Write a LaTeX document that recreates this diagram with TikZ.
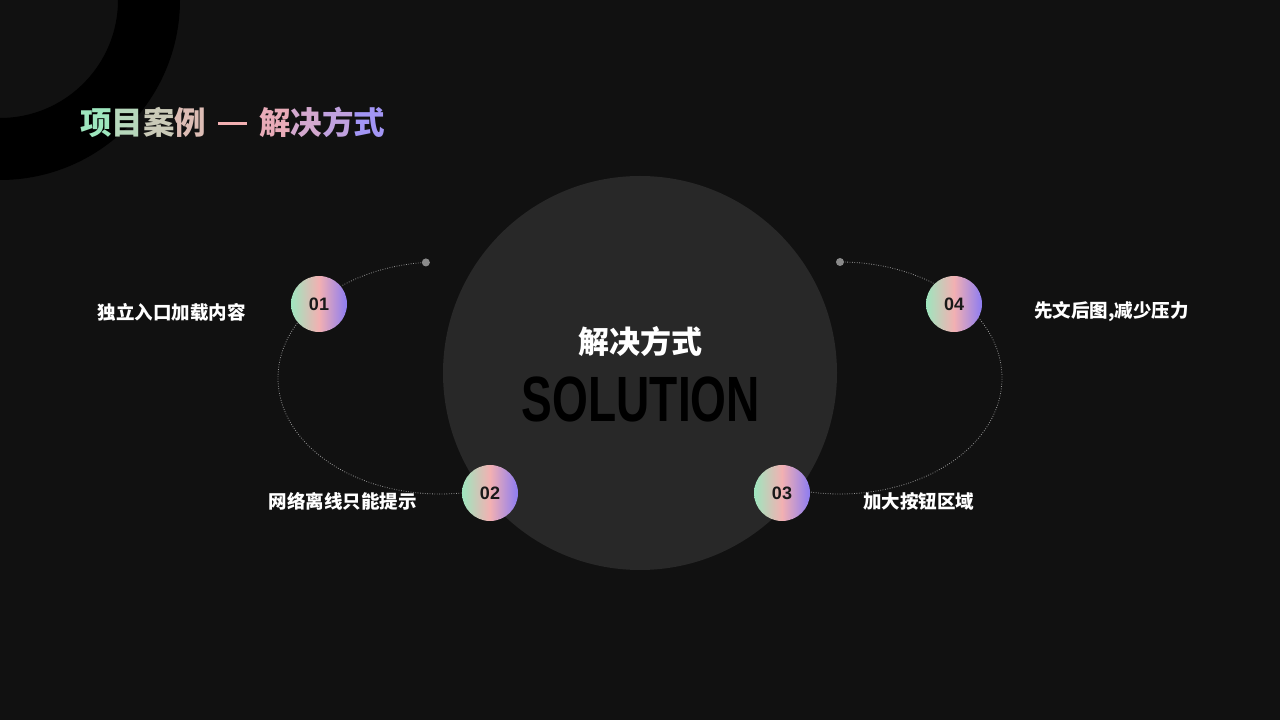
\documentclass[tikz,border=0pt]{standalone}
\usepackage{fontspec}
\setmainfont{Liberation Sans}
\newfontfamily\cjk{Noto Sans CJK SC}
\usepackage{graphicx}
\usepackage{tikz}
\usetikzlibrary
  {
    positioning,              % place nodes relative to other nodes
    calc,
    backgrounds,              % colored background areas
  }

\definecolor{bg}{HTML}{111111}
\definecolor{disc}{HTML}{282828}
\definecolor{mint}{HTML}{9EE6BE}
\definecolor{rose}{HTML}{F2B0B2}
\definecolor{lilac}{HTML}{8C7CF2}
\definecolor{orbit}{HTML}{8A8A8A}

\tikzset{
  badge/.style={circle, minimum size=56pt, inner sep=0pt,
    left color=mint, right color=lilac, middle color=rose,
    text=black!90, font=\bfseries\fontsize{18}{18}\selectfont},
  tip/.style={inner sep=0pt, text=white, font=\cjk\bfseries\fontsize{18.5}{18.5}\selectfont},
  orbitline/.style={draw=orbit!90, line width=0.8pt, dash pattern=on 0.8pt off 1.6pt},
}

\begin{document}
\begin{tikzpicture}[x=1pt, y=1pt]
    \useasboundingbox (0,0) rectangle (1280,720);

    \fill[black, even odd rule] (0,720) circle (180pt) (0,720) circle (118pt);

    \node (title) [anchor=west, inner sep=0pt, font=\cjk\bfseries\fontsize{31.5}{31.5}\selectfont] at (80,598)
      {\textcolor{mint}{项}\textcolor{mint!72!rose}{目}\textcolor{mint!48!rose}{案}\textcolor{mint!25!rose}{例}%
       \hspace{12pt}\textcolor{rose}{\rule[9.5pt]{29pt}{3pt}}\hspace{12pt}%
       \textcolor{rose!90!lilac}{解}\textcolor{rose!65!lilac!90!white}{决}\textcolor{rose!40!lilac!85!white}{方}\textcolor{lilac!80!white}{式}};

    \coordinate (cL) at (440,342);
    \coordinate (cR) at (840,342);
    \coordinate (dL) at ($(cL)+(95:162pt and 116pt)$);
    \coordinate (dR) at ($(cR)+(90:162pt and 116pt)$);

    \draw[orbitline] (dL) arc[start angle=95, end angle=288, x radius=162pt, y radius=116pt];
    \draw[orbitline] (dR) arc[start angle=90, end angle=-111, x radius=162pt, y radius=116pt];
    \fill[orbit] (dL) circle (4pt);
    \fill[orbit] (dR) circle (4pt);

    \node (core) [circle, minimum size=394pt, inner sep=0pt, fill=disc] at (640,347) {};
    \node (head) [text=white, font=\cjk\bfseries\fontsize{31}{31}\selectfont] at (640,378) {解决方式};
    \node (sol) [text=black] at (641,321) {\scalebox{0.72}[1]{\bfseries\fontsize{64}{64}\selectfont SOLUTION}};

    \node (b1) [badge] at (319,416) {01};
    \node (b2) [badge] at (490,227) {02};
    \node (b3) [badge] at (782,227) {03};
    \node (b4) [badge] at (954,416) {04};

    \node (t1) [tip, left=45pt of b1, yshift=-8pt] {独立入口加载内容};
    \node (t2) [tip, left=45pt of b2, yshift=-8pt] {网络离线只能提示};
    \node (t3) [tip, right=53pt of b3, yshift=-8pt] {加大按钮区域};
    \node (t4) [tip, right=52pt of b4, yshift=-8pt] {先文后图,减少压力};

    \begin{pgfonlayer}{background}
      \fill[bg] (0,0) rectangle (1280,720);
    \end{pgfonlayer}
\end{tikzpicture}
\end{document}
